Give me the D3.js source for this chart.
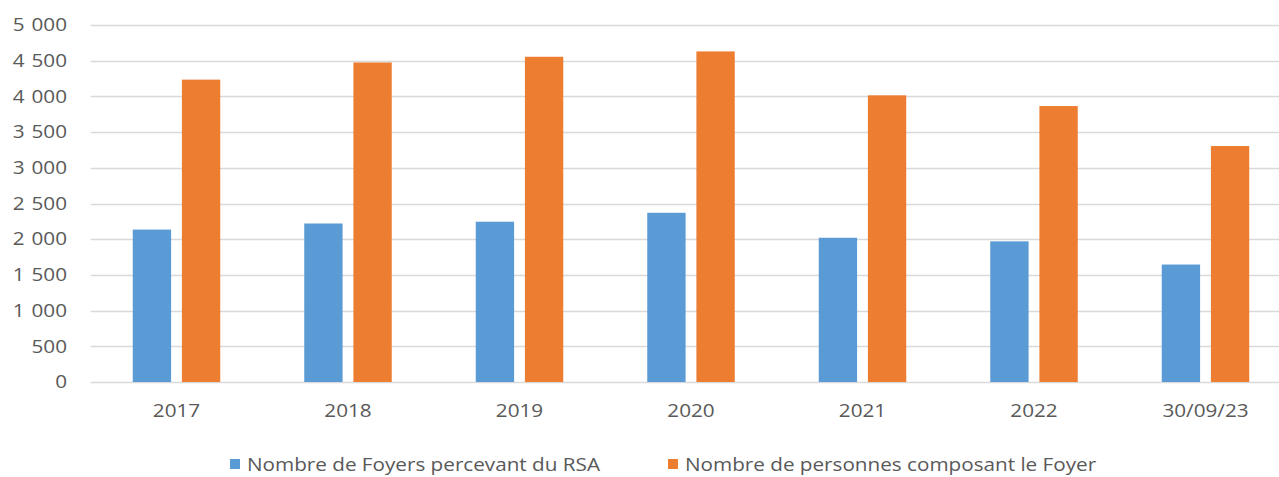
<!DOCTYPE html>
<html>
<head>
<meta charset="utf-8">
<script src="https://cdn.jsdelivr.net/npm/d3@7"></script>
<style>
  html, body { margin: 0; padding: 0; background: #fff; }
  svg { display: block; }
  text { font-family: "Open Sans", "Noto Sans", sans-serif; fill: #595959; }
</style>
</head>
<body>
<svg id="chart" width="1279" height="477"></svg>
<script>
// Categories (years) and the two series
const categories = ["2017", "2018", "2019", "2020", "2021", "2022", "30/09/23"];
const seriesNames = ["Nombre de Foyers percevant du RSA", "Nombre de personnes composant le Foyer"];
const foyers = [2135, 2220, 2245, 2370, 2020, 1970, 1645];
const personnes = [4235, 4475, 4555, 4630, 4015, 3865, 3305];
const yTicks = [0, 500, 1000, 1500, 2000, 2500, 3000, 3500, 4000, 4500, 5000];
const colors = ["#5B9BD5", "#ED7D31"];

const svg = d3.select("#chart");
const width = 1279, height = 477;
const plot = { left: 90.75, right: 1291.25, top: 25, bottom: 382 };
const textStretch = 1.15;   // wide lettering, horizontal stretch

const x0 = d3.scaleBand().domain(categories).range([plot.left, plot.right]).padding(0);
const x1 = d3.scaleBand().domain([0, 1])
  .range([42, x0.bandwidth() - 42]).paddingInner(0.22).paddingOuter(0);
const y = d3.scaleLinear().domain([0, 5000]).range([plot.bottom, plot.top]);

// French thousands separator (space)
const fmt = v => d3.format(",")(v).replace(/,/g, "\u2009\u2009");

// Horizontal gridlines
svg.append("g")
  .selectAll("line")
  .data(yTicks)
  .join("line")
  .attr("x1", plot.left)
  .attr("x2", width)
  .attr("y1", d => Math.round(y(d)) + 0.5)
  .attr("y2", d => Math.round(y(d)) + 0.5)
  .attr("stroke", "#D9D9D9")
  .attr("stroke-width", 1.5);

// Y axis labels
const yAxis = d3.axisLeft(y).tickValues(yTicks).tickFormat(fmt).tickSize(0).tickPadding(0);
const gy = svg.append("g").attr("transform", "translate(67,0)").call(yAxis);
gy.select(".domain").remove();
gy.selectAll("text")
  .attr("font-size", 18).attr("font-family", null).attr("fill", "#595959")
  .attr("transform", `scale(${textStretch},1)`);

// Bars
const rows = categories.map((c, i) => ({ cat: c, vals: [foyers[i], personnes[i]] }));
const groups = svg.append("g").selectAll("g")
  .data(rows)
  .join("g")
  .attr("transform", d => `translate(${x0(d.cat)},0)`);
groups.selectAll("rect")
  .data(d => d.vals.map((v, k) => ({ k, v })))
  .join("rect")
  .attr("x", d => x1(d.k))
  .attr("width", x1.bandwidth())
  .attr("y", d => y(d.v))
  .attr("height", d => y(0) - y(d.v))
  .attr("fill", d => colors[d.k]);

// X axis labels
const xAxis = d3.axisBottom(x0).tickSize(0).tickPadding(0);
const gx = svg.append("g").attr("transform", `translate(0,${plot.bottom + 35})`).call(xAxis);
gx.select(".domain").remove();
gx.selectAll("text")
  .attr("font-size", 18).attr("font-family", null).attr("fill", "#595959").attr("dy", 0)
  .attr("transform", `scale(${textStretch},1)`);

// Legend
const legendItems = [
  { name: seriesNames[0], color: colors[0], x: 230 },
  { name: seriesNames[1], color: colors[1], x: 668 }
];
const lg = svg.append("g").selectAll("g")
  .data(legendItems)
  .join("g")
  .attr("transform", d => `translate(${d.x},459)`);
lg.append("rect").attr("width", 10).attr("height", 10).attr("fill", d => d.color);
lg.append("text")
  .attr("transform", `translate(17,12) scale(${textStretch},1)`)
  .attr("font-size", 18)
  .text(d => d.name);
</script>
</body>
</html>
